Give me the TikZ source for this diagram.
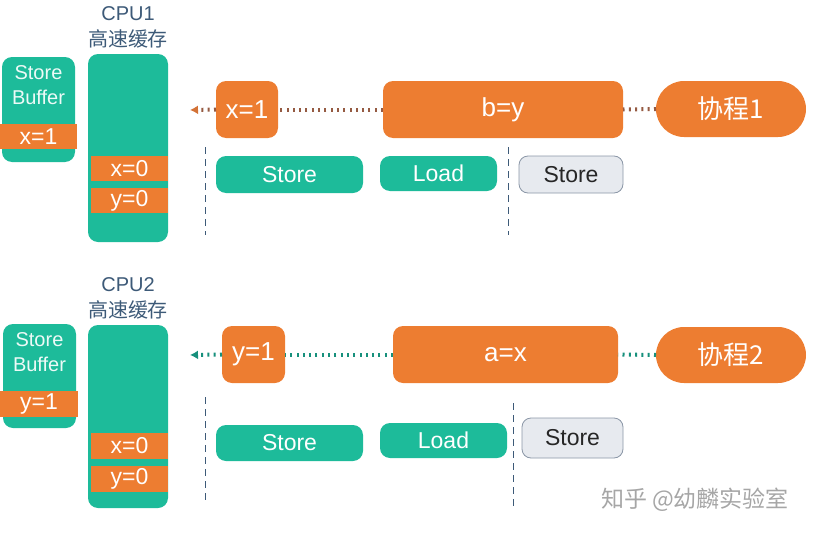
\documentclass[tikz,border=0pt]{standalone}
\usepackage{fontspec}
\setmainfont{Liberation Sans}
\newfontfamily\cjk{Noto Sans CJK SC}
\usetikzlibrary{arrows.meta}

\definecolor{teal1}{HTML}{1DBB9A}
\definecolor{orange1}{HTML}{ED7D31}
\definecolor{brown1}{HTML}{955A42}
\definecolor{teal2}{HTML}{17907C}
\definecolor{label1}{HTML}{3D5A78}
\definecolor{grayfill}{HTML}{E7EAEF}
\definecolor{grayline}{HTML}{8A96A6}

\tikzset{
    base/.style={
        inner sep=0pt,
        outer sep=0pt,
        text=white,
        node font={\fontsize{23}{27}\selectfont}},
    tealbox/.style={
        base,
        rectangle,
        rounded corners=10pt,
        fill=teal1},
    strip/.style={
        base,
        rectangle,
        fill=orange1,
        minimum height=25pt},
    opbox/.style={
        base,
        rectangle,
        rounded corners=10pt,
        fill=orange1,
        minimum height=57pt,
        node font={\fontsize{26}{30}\selectfont}},
    corobox/.style={
        base,
        rectangle,
        rounded corners=28pt,
        fill=orange1,
        minimum width=150pt,
        minimum height=56pt,
        node font={\cjk\fontsize{26}{30}\selectfont}},
    idlebox/.style={
        base,
        rectangle,
        rounded corners=9pt,
        fill=grayfill,
        draw=grayline,
        line width=0.8pt,
        text=black!85},
    cpulabel/.style={
        inner sep=0pt,
        align=center,
        text=label1,
        node font={\fontsize{20}{26}\selectfont}},
    flow/.style={
        line width=4pt,
        dash pattern=on 2pt off 4.3pt},
    lane/.style={
        draw=label1,
        line width=0.8pt,
        dash pattern=on 7pt off 5pt}
}

\begin{document}
\begin{tikzpicture}[x=1pt,y=-1pt]
    \useasboundingbox (0,0) rectangle (815,533);

    \node[
        tealbox,
        minimum width=73pt,
        minimum height=105pt]
        (sbA) at (38.5,109.5) {};
    \node[
        base,
        align=center,
        text=white!92!teal1,
        node font={\fontsize{20}{25}\selectfont}]
        (sbAtxt) at (38.5,85.5) {Store\\Buffer};
    \node[
        strip,
        minimum width=77pt]
        (sbAx) at (38.5,136.5) {x=1};

    \node[cpulabel] (cpuA) at (128,27) {CPU1\\{\cjk 高速缓存}};
    \node[
        tealbox,
        minimum width=80pt,
        minimum height=188pt]
        (cacheA) at (128,148) {};
    \node[
        strip,
        minimum width=77pt]
        (cacheAx) at (129.5,168.5) {x=0};
    \node[
        strip,
        minimum width=77pt]
        (cacheAy) at (129.5,200.5) {y=0};

    \coordinate (tipA) at (190,110);
    \node[
        opbox,
        minimum width=62pt]
        (wA) at (247,109.5) {x=1};
    \node[
        opbox,
        minimum width=240pt]
        (rA) at (503,109.5) {b=y};
    \node[corobox] (coA) at (731,109) {协程1};

    \draw[flow, draw=brown1] (coA.west) -- (rA.east);
    \draw[flow, draw=brown1] (rA.west) -- (wA.east);
    \draw[flow, draw=brown1, -{Latex[length=8pt,width=9pt,color=orange1!70!brown1]}] (wA.west) -- (tipA);

    \coordinate (laneA1s) at (205,147);
    \coordinate (laneA1e) at (205,235);
    \coordinate (laneA2s) at (508,147);
    \coordinate (laneA2e) at (508,235);
    \draw[lane] (laneA1s) -- (laneA1e);
    \draw[lane] (laneA2s) -- (laneA2e);

    \node[
        tealbox,
        minimum width=147pt,
        minimum height=37pt]
        (stA) at (289.5,174.5) {Store};
    \node[
        tealbox,
        minimum width=117pt,
        minimum height=35pt]
        (ldA) at (438.5,173.5) {Load};
    \node[
        idlebox,
        minimum width=104pt,
        minimum height=37pt]
        (stAnext) at (571,174.5) {Store};

    \node[
        tealbox,
        minimum width=73pt,
        minimum height=104pt]
        (sbB) at (39.5,376) {};
    \node[
        base,
        align=center,
        text=white!92!teal1,
        node font={\fontsize{20}{25}\selectfont}]
        (sbBtxt) at (39.5,352.5) {Store\\Buffer};
    \node[
        strip,
        minimum width=78pt,
        minimum height=26pt]
        (sbBy) at (39,404) {y=1};

    \node[cpulabel] (cpuB) at (128,298) {CPU2\\{\cjk 高速缓存}};
    \node[
        tealbox,
        minimum width=80pt,
        minimum height=183pt]
        (cacheB) at (128,416.5) {};
    \node[
        strip,
        minimum width=77pt,
        minimum height=26pt]
        (cacheBx) at (129.5,446) {x=0};
    \node[
        strip,
        minimum width=77pt,
        minimum height=26pt]
        (cacheBy) at (129.5,479) {y=0};

    \coordinate (tipB) at (190,355);
    \node[
        opbox,
        minimum width=63pt]
        (wB) at (253.5,354.5) {y=1};
    \node[
        opbox,
        minimum width=225pt]
        (rB) at (505.5,354.5) {a=x};
    \node[corobox] (coB) at (731,355) {协程2};

    \draw[flow, draw=teal2] (coB.west) -- (rB.east);
    \draw[flow, draw=teal2] (rB.west) -- (wB.east);
    \draw[flow, draw=teal2, -{Latex[length=8pt,width=9pt]}] (wB.west) -- (tipB);

    \coordinate (laneB1s) at (205,397);
    \coordinate (laneB1e) at (205,503);
    \coordinate (laneB2s) at (513,403);
    \coordinate (laneB2e) at (513,508);
    \draw[lane] (laneB1s) -- (laneB1e);
    \draw[lane] (laneB2s) -- (laneB2e);

    \node[
        tealbox,
        minimum width=147pt,
        minimum height=36pt]
        (stB) at (289.5,443) {Store};
    \node[
        tealbox,
        minimum width=127pt,
        minimum height=35pt]
        (ldB) at (443.5,440.5) {Load};
    \node[
        idlebox,
        minimum width=101pt,
        minimum height=40pt]
        (stBnext) at (572.5,438) {Store};

    \node[
        inner sep=0pt,
        text=black!35,
        node font={\cjk\fontsize{23}{26}\selectfont}]
        (mark) at (695,500) {知乎 @幼麟实验室};
\end{tikzpicture}
\end{document}
